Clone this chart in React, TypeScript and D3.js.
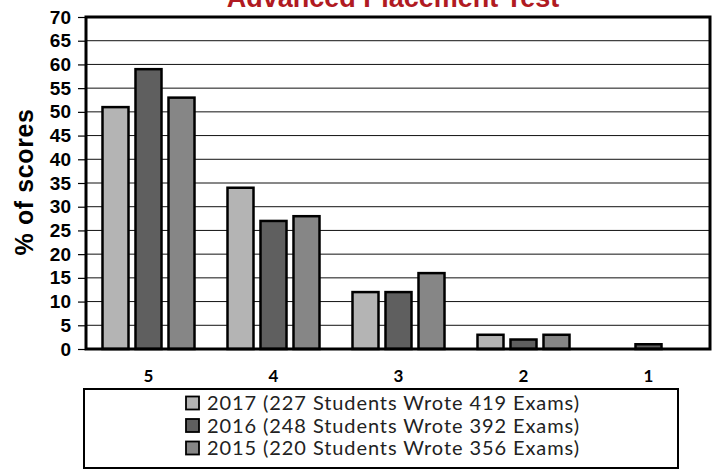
import React, { useEffect, useRef } from "react";
import * as d3 from "d3";

const categories = ["5", "4", "3", "2", "1"];
const seriesNames = ["2017", "2016", "2015"];
const legendLabels = [
  "2017 (227 Students Wrote 419 Exams)",
  "2016 (248 Students Wrote 392 Exams)",
  "2015 (220 Students Wrote 356 Exams)",
];
const values2017 = [51, 34, 12, 3, 0];
const values2016 = [59, 27, 12, 2, 1];
const values2015 = [53, 28, 16, 3, 0];
const yTicks = [0, 5, 10, 15, 20, 25, 30, 35, 40, 45, 50, 55, 60, 65, 70];

export default function App() {
  const svgRef = useRef<SVGSVGElement | null>(null);

  useEffect(() => {
    if (!svgRef.current) return;
    const width = 714;
    const height = 470;
    const plot = { left: 86, right: 710, top: 17, bottom: 349 };
    const colors = ["#b4b4b4", "#5f5f5f", "#868686"];
    const allValues = [values2017, values2016, values2015];

    const svg = d3.select(svgRef.current);
    svg.selectAll("*").remove();
    svg.attr("width", width).attr("height", height);

    const x = d3.scaleBand().domain(categories).range([plot.left, plot.left + 625]);
    const xs = d3
      .scaleBand()
      .domain(seriesNames)
      .range([16.5, 108.5])
      .paddingInner(0.212);
    const y = d3.scaleLinear().domain([0, 70]).range([plot.bottom, plot.top]);

    // title (cropped at the top edge, as in the source image)
    svg
      .append("text")
      .attr("x", 393)
      .attr("y", 7)
      .attr("text-anchor", "middle")
      .attr("font-family", "Liberation Sans, Arial, sans-serif")
      .attr("font-weight", "bold")
      .attr("font-size", 27)
      .attr("fill", "#b01a22")
      .text("Advanced Placement Test");

    // gridlines
    svg
      .append("g")
      .selectAll("line")
      .data(yTicks.filter((t) => t > 0 && t < 70))
      .join("line")
      .attr("x1", plot.left)
      .attr("x2", plot.right)
      .attr("y1", (d) => y(d))
      .attr("y2", (d) => y(d))
      .attr("stroke", "#111")
      .attr("stroke-width", 1);

    // y axis
    const yAxis = svg
      .append("g")
      .attr("transform", `translate(${plot.left},0)`)
      .call(d3.axisLeft(y).tickValues(yTicks).tickSize(8).tickPadding(7));
    yAxis.select(".domain").remove();
    yAxis.selectAll("line").attr("stroke", "#000").attr("stroke-width", 1.2);
    yAxis
      .selectAll("text")
      .attr("font-family", "Liberation Sans, Arial, sans-serif")
      .attr("font-weight", "bold")
      .attr("font-size", 19)
      .attr("fill", "#000");

    // bars
    const groups = svg
      .append("g")
      .selectAll("g")
      .data(categories)
      .join("g")
      .attr("transform", (d) => `translate(${x(d)},0)`);
    groups
      .selectAll("rect")
      .data((_, i) => seriesNames.map((s, j) => ({ s, j, v: allValues[j][i] })))
      .join("rect")
      .filter((d) => d.v > 0)
      .attr("x", (d) => xs(d.s) as number)
      .attr("y", (d) => y(d.v))
      .attr("width", xs.bandwidth())
      .attr("height", (d) => plot.bottom - y(d.v))
      .attr("fill", (d) => colors[d.j])
      .attr("stroke", "#000")
      .attr("stroke-width", 2.5);

    // frame
    svg
      .append("rect")
      .attr("x", plot.left)
      .attr("y", plot.top)
      .attr("width", plot.right - plot.left)
      .attr("height", plot.bottom - plot.top)
      .attr("fill", "none")
      .attr("stroke", "#000")
      .attr("stroke-width", 3);

    // x labels
    svg
      .append("g")
      .selectAll("text")
      .data(categories)
      .join("text")
      .attr("x", (d) => (x(d) as number) + x.bandwidth() / 2)
      .attr("y", 382)
      .attr("text-anchor", "middle")
      .attr("font-family", "Lato, sans-serif")
      .attr("font-weight", "bold")
      .attr("font-size", 17)
      .text((d) => d);

    // y label
    svg
      .append("text")
      .attr("transform", "translate(33,182) rotate(-90)")
      .attr("text-anchor", "middle")
      .attr("font-family", "Liberation Sans, Arial, sans-serif")
      .attr("font-weight", "bold")
      .attr("font-size", 25)
      .attr("letter-spacing", 0.6)
      .text("% of scores");

    // legend
    svg
      .append("rect")
      .attr("x", 84)
      .attr("y", 389)
      .attr("width", 594)
      .attr("height", 79)
      .attr("fill", "#fff")
      .attr("stroke", "#000")
      .attr("stroke-width", 2);
    const items = svg
      .append("g")
      .selectAll("g")
      .data(legendLabels)
      .join("g")
      .attr("transform", (_, i) => `translate(186,${403 + i * 22.5})`);
    items
      .append("rect")
      .attr("x", 0)
      .attr("y", -6.5)
      .attr("width", 13)
      .attr("height", 13)
      .attr("fill", (_, i) => colors[i])
      .attr("stroke", "#000")
      .attr("stroke-width", 1.8);
    items
      .append("text")
      .attr("x", 21)
      .attr("y", 7)
      .attr("font-family", "Lato, sans-serif")
      .attr("font-size", 20)
      .attr("textLength", 372)
      .attr("lengthAdjust", "spacing")
      .attr("fill", "#222")
      .text((d) => d);
  }, []);

  return (
    <svg
      ref={svgRef}
      style={{ position: "fixed", top: 0, left: 0, background: "#fff" }}
    />
  );
}
